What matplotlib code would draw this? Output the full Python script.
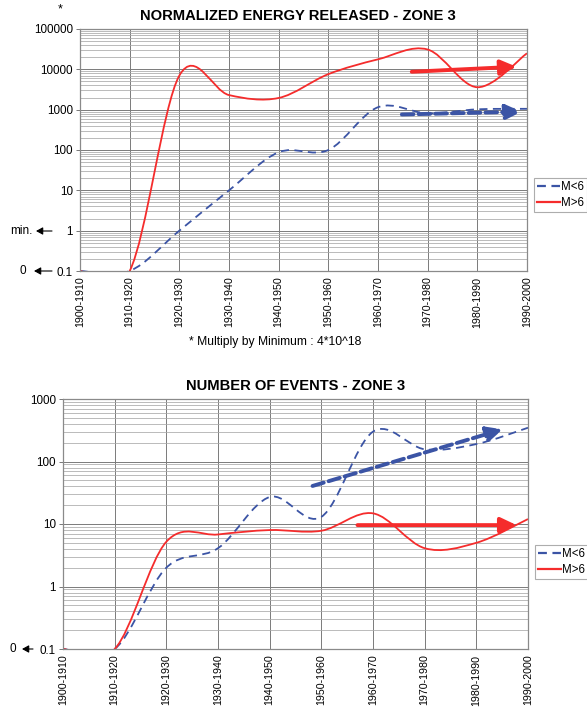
import numpy as np
import matplotlib
matplotlib.use("Agg")
import matplotlib.pyplot as plt
import matplotlib.ticker as mticker
from matplotlib.path import Path
from matplotlib.patches import PathPatch, FancyArrowPatch
from matplotlib.lines import Line2D

plt.rcParams["font.family"] = ["Liberation Sans", "DejaVu Sans"]

# categories (decades) on both x axes
decades = ["1900-1910", "1910-1920", "1920-1930", "1930-1940", "1940-1950",
           "1950-1960", "1960-1970", "1970-1980", "1980-1990", "1990-2000"]

# normalized energy released (x minimum), 0 drawn as 0.1
energy_low = [0.1, 0.1, 1.0, 10, 88, 100, 1150, 810, 1020, 1050]
energy_high = [0.1, 0.1, 7000, 2300, 1950, 7600, 17700, 31000, 3600, 25000]

# number of events, 0 drawn as 0.1
events_low = [0.1, 0.1, 2.0, 4.1, 27, 13, 300, 157, 190, 347]
events_high = [0.1, 0.1, 5.2, 6.8, 8.0, 7.8, 14.8, 4.1, 5.0, 12.0]

# hand drawn trend arrows: (category positions), (values)
energy_trend_low = ([6.48, 8.89], [760, 890])
energy_trend_high = ([6.68, 8.79], [8700, 11600])
events_trend_low = ([4.83, 8.51], [40.6, 327])
events_trend_high = ([5.70, 8.78], [9.6, 9.6])

BLUE = "#3b54a5"
RED = "#f52c2c"
W, H = 587, 713


def smooth_path(xs, ys):
    # excel style smoothed line, bezier segments (control points at 1/6)
    lx = np.asarray(xs, float)
    ly = np.log10(np.asarray(ys, float))
    n = len(lx)
    verts = [(lx[0], ly[0])]
    codes = [Path.MOVETO]
    for i in range(n - 1):
        a = max(i - 1, 0)
        d = min(i + 2, n - 1)
        verts.append((lx[i] + (lx[i + 1] - lx[a]) / 6, ly[i] + (ly[i + 1] - ly[a]) / 6))
        verts.append((lx[i + 1] - (lx[d] - lx[i]) / 6, ly[i + 1] - (ly[d] - ly[i]) / 6))
        verts.append((lx[i + 1], ly[i + 1]))
        codes += [Path.CURVE4] * 3
    return Path([(x, 10 ** y) for x, y in verts], codes)


def setup_axes(ax, ymin, ymax):
    ax.set_yscale("log")
    ax.set_xlim(0, len(decades) - 1)
    ax.set_ylim(ymin, ymax)
    ax.set_xticks(range(len(decades)))
    ax.set_xticklabels(decades, rotation=90, fontsize=7.7)
    ax.yaxis.set_major_locator(mticker.LogLocator(base=10, numticks=20))
    ax.yaxis.set_minor_locator(mticker.LogLocator(base=10, subs=range(2, 10), numticks=20))
    ax.yaxis.set_major_formatter(mticker.FuncFormatter(lambda v, p: "%g" % v))
    ax.yaxis.set_minor_formatter(mticker.NullFormatter())
    ax.tick_params(axis="y", which="major", length=3, width=0.7, color="#777777",
                   labelsize=8.4, pad=2)
    ax.tick_params(axis="y", which="minor", length=0)
    ax.tick_params(axis="x", length=0, pad=4)
    ax.grid(which="major", color="#7a7a7a", lw=0.7)
    ax.grid(which="minor", axis="y", color="#a8a8a8", lw=0.55)
    ax.set_axisbelow(True)
    for s in ax.spines.values():
        s.set_color("#8a8a8a")
        s.set_linewidth(0.9)
        s.set_zorder(5)


def draw_series(ax, low, high):
    x = range(len(decades))
    ax.add_patch(PathPatch(smooth_path(x, low), fill=False, edgecolor=BLUE, lw=1.3,
                           linestyle=(0, (4.5, 3)), zorder=3))
    ax.add_patch(PathPatch(smooth_path(x, high), fill=False, edgecolor=RED, lw=1.3,
                           zorder=3))


def draw_trend(ax, trend, color, dashed):
    xs, ys = trend
    ls = (0, (3, 1.3)) if dashed else "-"
    ax.annotate("", xy=(xs[1], ys[1]), xytext=(xs[0], ys[0]),
                arrowprops=dict(arrowstyle="-|>,head_length=0.95,head_width=0.45",
                                lw=2.8, color=color, linestyle=ls,
                                shrinkA=0, shrinkB=0), zorder=4)


def add_legend(fig, x, y):
    handles = [Line2D([], [], color=BLUE, lw=1.6, linestyle=(0, (4, 2.5))),
               Line2D([], [], color=RED, lw=1.6)]
    leg = fig.legend(handles, ["M<6", "M>6"], loc="upper left",
                     bbox_to_anchor=(x / W, 1 - y / H), fontsize=8.3,
                     handlelength=1.95, handletextpad=0.05, labelspacing=0.3,
                     borderpad=0.3, borderaxespad=0, fancybox=False)
    leg.get_frame().set_edgecolor("#999999")
    leg.get_frame().set_linewidth(0.8)


def fig_arrow(fig, x0, x1, y):
    fig.add_artist(FancyArrowPatch((x0 / W, 1 - y / H), (x1 / W, 1 - y / H),
                                   transform=fig.transFigure, mutation_scale=1,
                                   arrowstyle="-|>,head_length=4,head_width=2.2",
                                   shrinkA=0, shrinkB=0, lw=0.8, color="black"))


fig = plt.figure(figsize=(W / 100, H / 100), dpi=100)

# top chart: energy
ax1 = fig.add_axes([80 / W, 1 - 271 / H, 447 / W, 242 / H])
setup_axes(ax1, 0.1, 100000)
draw_series(ax1, energy_low, energy_high)
draw_trend(ax1, energy_trend_low, BLUE, True)
draw_trend(ax1, energy_trend_high, RED, False)
fig.text(298 / W, 1 - 16 / H, "NORMALIZED ENERGY RELEASED - ZONE 3", ha="center",
         va="center", fontsize=10.6, fontweight="bold")
fig.text(60 / W, 1 - 9 / H, "*", ha="center", va="center", fontsize=9)
fig.text(275 / W, 1 - 342 / H, "* Multiply by Minimum : 4*10^18", ha="center",
         va="center", fontsize=8.7)
fig.text(21 / W, 1 - 231 / H, "min.", ha="center", va="center", fontsize=8.5)
fig_arrow(fig, 52, 36, 231)
fig.text(23 / W, 1 - 271 / H, "0", ha="center", va="center", fontsize=8.5)
fig_arrow(fig, 52, 34, 271)
add_legend(fig, 534, 178)

# bottom chart: number of events
ax2 = fig.add_axes([63 / W, 1 - 649 / H, 465 / W, 250 / H])
setup_axes(ax2, 0.1, 1000)
draw_series(ax2, events_low, events_high)
draw_trend(ax2, events_trend_low, BLUE, True)
draw_trend(ax2, events_trend_high, RED, False)
fig.text(296 / W, 1 - 386 / H, "NUMBER OF EVENTS - ZONE 3", ha="center",
         va="center", fontsize=10.6, fontweight="bold")
fig.text(13 / W, 1 - 649 / H, "0", ha="center", va="center", fontsize=8.5)
fig_arrow(fig, 33, 22, 649)
add_legend(fig, 535, 545)

fig.savefig("out.png", dpi=100)
